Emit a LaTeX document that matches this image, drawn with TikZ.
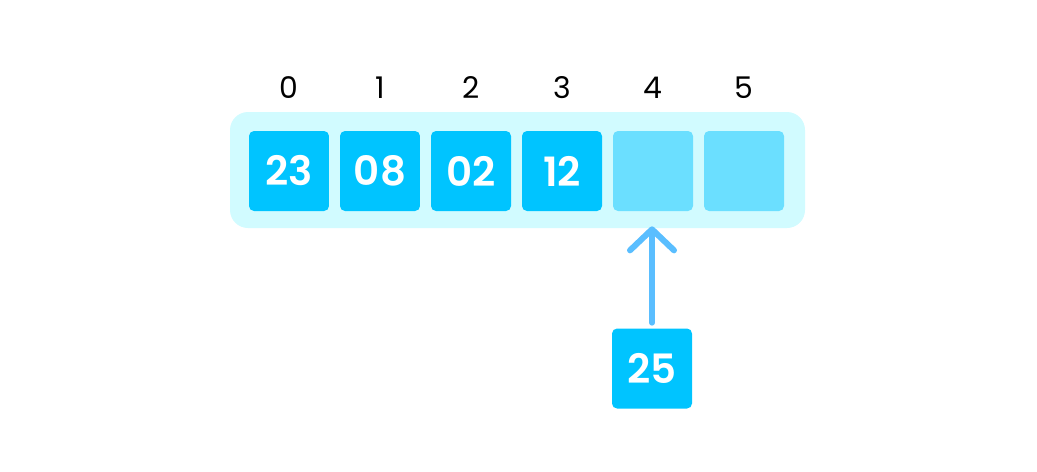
\documentclass[tikz,border=0pt]{standalone}
\usepackage{fontspec}
\setmainfont{Poppins}[BoldFont={Poppins SemiBold}]
\usetikzlibrary{arrows.meta}
\definecolor{cellblue}{HTML}{00C4FF}
\definecolor{emptyblue}{HTML}{6BDFFF}
\definecolor{trayblue}{HTML}{D1FBFF}
\definecolor{arrowblue}{HTML}{5ABEFF}
\tikzset{
  cell/.style={fill=cellblue, rounded corners=0.1cm, minimum size=1.6cm, inner sep=0pt,
    text=white, font=\fontsize{23}{28}\selectfont\bfseries},
  emptycell/.style={cell, fill=emptyblue},
  idx/.style={font=\fontsize{17}{20}\selectfont},
  pointer/.style={arrowblue, line width=0.12cm, line cap=round,
    -{Straight Barb[length=0.42cm, width=0.88cm, round]}},
}
\begin{document}
\begin{tikzpicture}[x=0.02cm,y=-0.02cm]
\useasboundingbox (0,0) rectangle (1037,471);
% the array tray
\fill[trayblue, rounded corners=0.36cm] (230,112) rectangle (805,228);
\foreach \i/\v in {0/23,1/08,2/02,3/12} {
  \node[cell] (c\i) at (289+91*\i,171) {\v};
}
\foreach \i in {4,5} {
  \node[emptycell] (c\i) at (289+91*\i,171) {};
}
\foreach \i in {0,...,5} {
  \node[idx] (l\i) at (289+91*\i,88) {\i};
}
% value to insert
\node[cell] (new) at (652,368.5) {25};
\draw[pointer, shorten <=0.11cm, shorten >=0.3cm] (new.north) -- (new.north |- c4.south);
\end{tikzpicture}
\end{document}
